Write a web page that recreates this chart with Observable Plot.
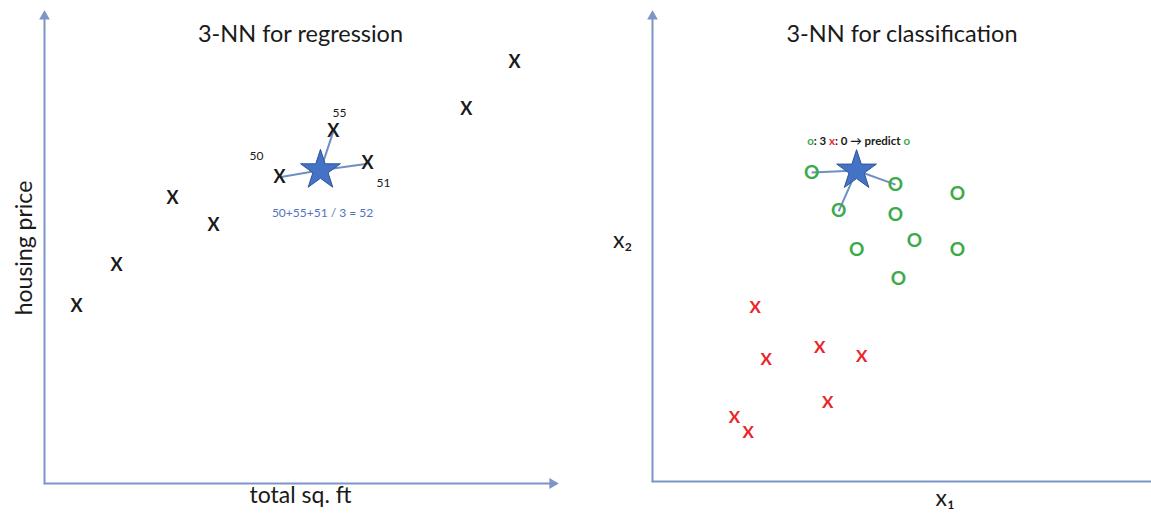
<!DOCTYPE html>
<html><head><meta charset="utf-8">
<script src="https://cdn.jsdelivr.net/npm/d3@7"></script>
<script src="https://cdn.jsdelivr.net/npm/@observablehq/plot@0.6"></script>
<style>
body{margin:0;background:#fff}
#wrap{display:flex;width:1151px;height:515px;overflow:hidden}
</style>
</head><body><div id="wrap"></div>
<script>
// ---------- Left panel: 3-NN regression ----------
const regTitle = "3-NN for regression";
const regXLabel = "total sq. ft";
const regYLabel = "housing price";
const regX = [6.25, 14.06, 25.0, 33.0, 45.9, 56.4, 63.1, 82.4, 91.8];
const regY = [37.6, 46.3, 60.5, 54.8, 65.0, 74.7, 67.9, 79.4, 89.4];
const regQueryX = 53.9, regQueryY = 66.5;
const regNeighbors = [4, 5, 6];
const regNeighborLabels = ["50", "55", "51"];
const regLabelX = [41.4, 57.6, 66.2];
const regLabelY = [69.4, 78.6, 63.7];
const regFormula = "50+55+51 / 3 = 52";
const regFormulaX = 54.3, regFormulaY = 57.3;

// ---------- Right panel: 3-NN classification ----------
const clsTitle = "3-NN for classification";
const clsXLabel = "x\u2081";
const clsYLabel = "x\u2082";
const oX = [31.9, 48.7, 37.3, 61.1, 48.7, 52.5, 40.9, 61.1, 49.3];
const oY = [65.9, 63.3, 57.6, 61.4, 56.9, 51.4, 49.3, 49.3, 43.3];
const xX = [20.6, 22.8, 33.5, 41.9, 35.1, 16.4, 19.2];
const xY = [37.1, 26.0, 28.6, 26.7, 16.8, 13.6, 10.4];
const clsQueryX = 40.9, clsQueryY = 66.3;
const clsNeighbors = [0, 1, 2];
const clsNoteParts = ["o", ": 3 ", "x", ": 0 \u2192 predict ", "o"];
const clsNoteColors = ["green", "black", "red", "black", "green"];
const clsNoteX = 41.3, clsNoteY = 72.5;

const C = {axis:"#7d95c8", star:"#4472c4", starStroke:"#2f5597", link:"#6f8fc4",
           black:"#1a1a1a", green:"#3daa4a", red:"#e8262a", blue:"#4f74c0"};
const FONT = "Lato, 'Open Sans', sans-serif";

function axisMarks(withXArrow) {
  const m = [
    Plot.line([[0,0],[0,100]], {stroke: C.axis, strokeWidth: 2}),
    Plot.line([[0,0],[100,0]], {stroke: C.axis, strokeWidth: 2}),
    Plot.dot([[0,100]], {symbol: "triangle", r: 4, fill: C.axis, dy: 4})
  ];
  if (withXArrow) m.push(Plot.dot([[100,0]], {symbol: "triangle", r: 4, fill: C.axis, rotate: 90, dx: -4}));
  return m;
}

const regPts = regX.map((x, i) => ({x, y: regY[i]}));
const regLinks = regNeighbors.map(i => ({x1: regQueryX, y1: regQueryY, x2: regX[i], y2: regY[i]}));
const regLabels = regNeighborLabels.map((t, i) => ({t, x: regLabelX[i], y: regLabelY[i]}));

const left = Plot.plot({
  width: 575, height: 515,
  marginLeft: 44, marginRight: 19, marginTop: 12, marginBottom: 32,
  x: {domain: [0, 100], axis: null},
  y: {domain: [0, 100], axis: null},
  style: {fontFamily: FONT, background: "#fff", color: C.black},
  marks: [
    ...axisMarks(true),
    Plot.link(regLinks, {x1: "x1", y1: "y1", x2: "x2", y2: "y2", stroke: C.link, strokeWidth: 2}),
    Plot.text(regPts, {x: "x", y: "y", text: () => "X", fontSize: 18, fontWeight: "bold", fill: C.black}),
    Plot.dot([{x: regQueryX, y: regQueryY}], {x: "x", y: "y", symbol: "star", r: 12.5, fill: C.star, stroke: C.starStroke, strokeWidth: 1}),
    Plot.text(regLabels, {x: "x", y: "y", text: "t", fontSize: 12, fill: C.black}),
    Plot.text([regFormula], {x: regFormulaX, y: regFormulaY, text: d => d, fontSize: 12, fill: C.blue}),
    Plot.text([regTitle], {frameAnchor: "top", dy: 13, text: d => d, fontSize: 23.5, fill: C.black}),
    Plot.text([regXLabel], {frameAnchor: "bottom", dy: 19, text: d => d, fontSize: 23, fill: C.black}),
    Plot.text([regYLabel], {frameAnchor: "left", dx: -20, rotate: -90, textAnchor: "middle", text: d => d, fontSize: 23, fill: C.black})
  ]
});

const oPts = oX.map((x, i) => ({x, y: oY[i]}));
const xPts = xX.map((x, i) => ({x, y: xY[i]}));
const clsLinks = clsNeighbors.map(i => ({x1: clsQueryX, y1: clsQueryY, x2: oX[i], y2: oY[i]}));

const right = Plot.plot({
  width: 576, height: 515,
  marginLeft: 77, marginRight: 0, marginTop: 12, marginBottom: 34,
  x: {domain: [0, 100], axis: null},
  y: {domain: [0, 100], axis: null},
  style: {fontFamily: FONT, background: "#fff", color: C.black},
  marks: [
    ...axisMarks(false),
    Plot.link(clsLinks, {x1: "x1", y1: "y1", x2: "x2", y2: "y2", stroke: C.link, strokeWidth: 2}),
    Plot.text(oPts, {x: "x", y: "y", text: () => "O", fontSize: 19, fontWeight: "bold", fill: C.green}),
    Plot.text(xPts, {x: "x", y: "y", text: () => "X", fontSize: 17, fontWeight: "bold", fill: C.red}),
    Plot.dot([{x: clsQueryX, y: clsQueryY}], {x: "x", y: "y", symbol: "star", r: 12.5, fill: C.star, stroke: C.starStroke, strokeWidth: 1}),
    Plot.text([clsNoteParts.join("")], {x: clsNoteX, y: clsNoteY, text: d => d, fontSize: 11.5, fontWeight: "bold", fill: C.black, className: "clsnote"}),
    Plot.text([clsTitle], {frameAnchor: "top", dy: 13, text: d => d, fontSize: 23.5, fill: C.black}),
    Plot.text([clsXLabel], {frameAnchor: "bottom", dx: 43, dy: 24, textAnchor: "middle", text: d => d, fontSize: 23, fill: C.black}),
    Plot.text([clsYLabel], {frameAnchor: "left", dx: -30, dy: -6, textAnchor: "middle", text: d => d, fontSize: 23, fill: C.black})
  ]
});

// color the parts of the annotation
d3.select(right).selectAll("g.clsnote text").each(function() {
  const t = d3.select(this);
  t.text(null);
  clsNoteParts.forEach((p, i) => {
    t.append("tspan").text(p).attr("fill", C[clsNoteColors[i]]);
  });
});

document.getElementById("wrap").append(left, right);
</script>
</body></html>
